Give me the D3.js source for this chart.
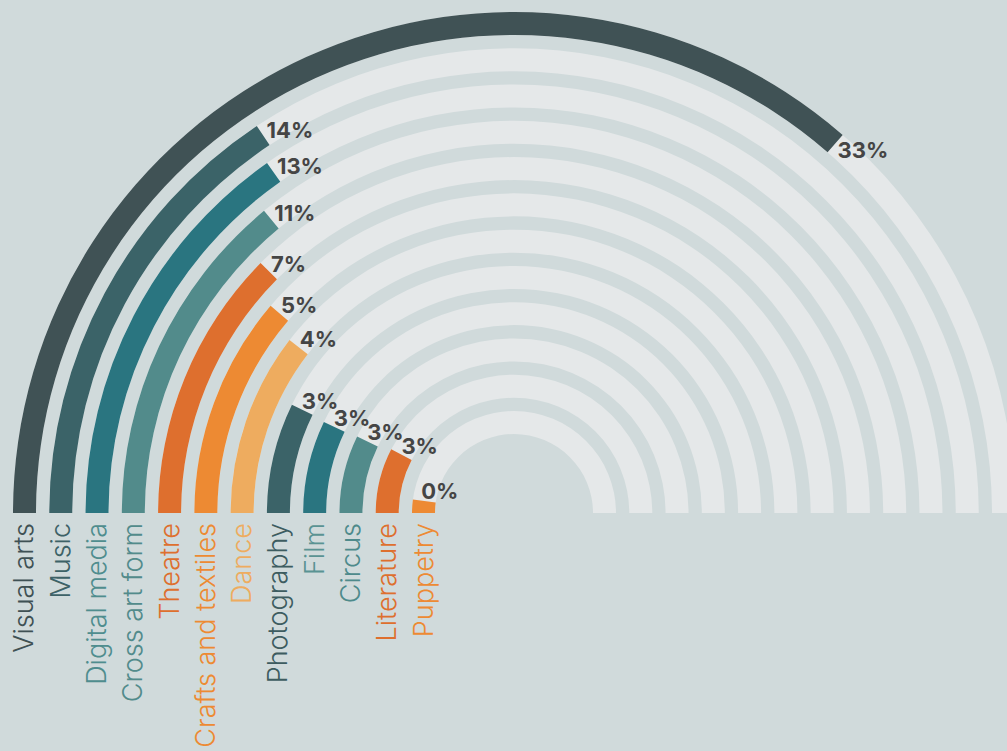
<!DOCTYPE html>
<html>
<head>
<meta charset="utf-8">
<script src="https://cdn.jsdelivr.net/npm/d3@7"></script>
<style>
  html, body { margin: 0; padding: 0; background: #d0dadb; }
  svg { display: block; }
</style>
</head>
<body>
<div id="chart"></div>
<script>
// Categories, outermost ring first
const categories = ['Visual arts', 'Music', 'Digital media', 'Cross art form', 'Theatre',
    'Crafts and textiles', 'Dance', 'Photography', 'Film', 'Circus', 'Literature', 'Puppetry'];

// Bar lengths as drawn (angle scale 0..45 -> half circle)
const barValues = [32.75, 14.1, 13.7, 12.6, 11.15, 10.1, 9.4, 6.5, 6.4, 6.5, 6.85, 1.9];

// Printed labels
const pctLabels = ['33%', '14%', '13%', '11%', '7%', '5%', '4%', '3%', '3%', '3%', '3%', '0%'];

const barColors = ['#405255', '#3b6368', '#2a7580', '#528b8b', '#de6f2e', '#ed8a33',
    '#eeac5f', '#3b6368', '#2a7580', '#528b8b', '#de6f2e', '#ed8a33'];
const textColors = ['#3f5154', '#3d6267', '#4f8d8e', '#528b8b', '#de6f2e', '#ed8a33',
    '#eeac5f', '#3d5c60', '#5a9393', '#4e8a8b', '#de6f2e', '#ed8a33'];

const width = 1007;
const height = 751;
const cx = 514;
const cy = 513;

const svg = d3.select('#chart')
    .append('svg')
    .attr('width', width)
    .attr('height', height);

svg.append('rect')
    .attr('width', width)
    .attr('height', height)
    .attr('fill', '#d0dadb');

const g = svg.append('g')
    .attr('transform', `translate(${cx},${cy})`);

// rings: first category gets the outermost band
const radius = d3.scaleBand()
    .domain(categories)
    .range([501, 79])
    .paddingInner(0.366)
    .paddingOuter(0);

const angle = d3.scaleLinear()
    .domain([0, 45])
    .range([0, Math.PI]);

const arc = d3.arc()
    .innerRadius(d => radius(d.name))
    .outerRadius(d => radius(d.name) + radius.bandwidth())
    .startAngle(-Math.PI / 2)
    .endAngle(d => -Math.PI / 2 + d.a);

const rows = categories.map((name, i) => ({
    name: name,
    value: barValues[i],
    label: pctLabels[i],
    color: barColors[i],
    textColor: textColors[i]
}));

// background tracks
g.selectAll('.track')
    .data(rows)
    .enter()
    .append('path')
    .attr('class', 'track')
    .attr('fill', '#e5e8e9')
    .attr('d', d => arc({ name: d.name, a: Math.PI }));

// bars
g.selectAll('.bar')
    .data(rows)
    .enter()
    .append('path')
    .attr('class', 'bar')
    .attr('fill', d => d.color)
    .attr('d', d => arc({ name: d.name, a: angle(d.value) }));

// value labels just past the end of each bar
function labelPos(d) {
    const r = radius(d.name) + radius.bandwidth() / 2;
    const a = -Math.PI / 2 + angle(d.value) + 10 / r;
    return [r * Math.sin(a), -r * Math.cos(a)];
}

g.selectAll('.value-label')
    .data(rows)
    .enter()
    .append('text')
    .attr('class', 'value-label')
    .attr('font-family', 'Inter, "Open Sans", sans-serif')
    .attr('font-weight', 700)
    .attr('font-size', '22px')
    .attr('fill', '#454545')
    .attr('dx', -5)
    .attr('dy', '0.35em')
    .attr('x', d => labelPos(d)[0])
    .attr('y', d => labelPos(d)[1])
    .text(d => d.label);

// category names, rotated under the left ends
g.selectAll('.cat-label')
    .data(rows)
    .enter()
    .append('text')
    .attr('class', 'cat-label')
    .attr('font-family', 'Inter, "Open Sans", sans-serif')
    .attr('font-weight', 300)
    .attr('font-size', '27px')
    .attr('fill', d => d.textColor)
    .attr('text-anchor', 'end')
    .attr('transform', d => {
        const x = -(radius(d.name) + radius.bandwidth() / 2) + 9;
        return `translate(${x},10) rotate(-90)`;
    })
    .text(d => d.name);
</script>
</body>
</html>
